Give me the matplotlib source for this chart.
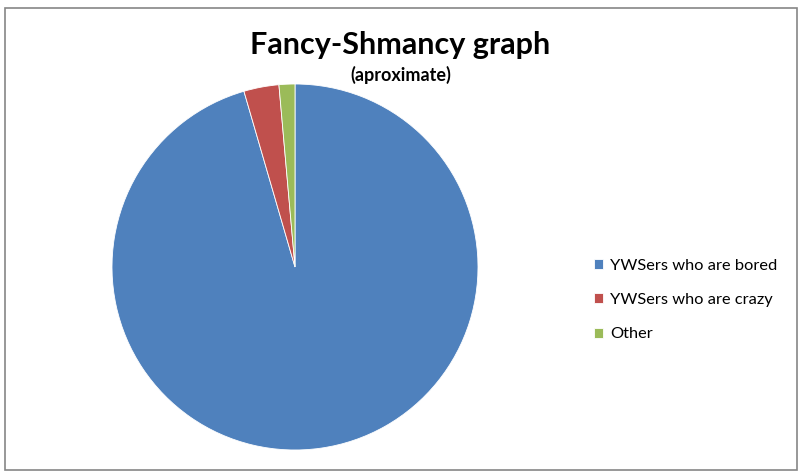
import matplotlib
matplotlib.use("Agg")
import matplotlib.pyplot as plt
from matplotlib.patches import Rectangle

plt.rcParams['font.family'] = ['Lato', 'DejaVu Sans']

# Data (percent)
labels = ["YWSers who are bored", "YWSers who are crazy", "Other"]
values = [95.5, 3.1, 1.4]
colors = ["#4F81BD", "#C0504D", "#9BBB59"]

W, H = 804, 475
fig = plt.figure(figsize=(W / 100, H / 100), dpi=100)

# Pie axes: square, 366 px across, centre near (295, 267)
ax = fig.add_axes([112 / W, 25 / H, 366 / W, 366 / H])
wedges, _ = ax.pie(values, colors=colors, startangle=90, counterclock=False,
                   radius=1, wedgeprops=dict(edgecolor="white", linewidth=0.6))
ax.set_xlim(-1, 1)
ax.set_ylim(-1, 1)
ax.set_aspect("equal")
ax.axis("off")

# Titles
fig.text(400 / W, 1 - 45 / H, "Fancy-Shmancy graph", ha="center", va="center",
         fontsize=22, fontweight="bold")
fig.text(401 / W, 1 - 75 / H, "(aproximate)", ha="center", va="center",
         fontsize=13, fontweight="bold")

# Legend
fig.legend(wedges, labels, loc="center left",
           bbox_to_anchor=(587 / W, 1 - 300 / H), frameon=False,
           fontsize=11.8, handlelength=0.6, handleheight=0.6,
           handletextpad=0.4, labelspacing=1.25, borderaxespad=0)

# Outer frame
fig.add_artist(Rectangle((5 / W, 1 - 470 / H), 792 / W, 462 / H,
                         transform=fig.transFigure, fill=False,
                         edgecolor="#868686", linewidth=1.2))

fig.savefig("out.png", dpi=100)
